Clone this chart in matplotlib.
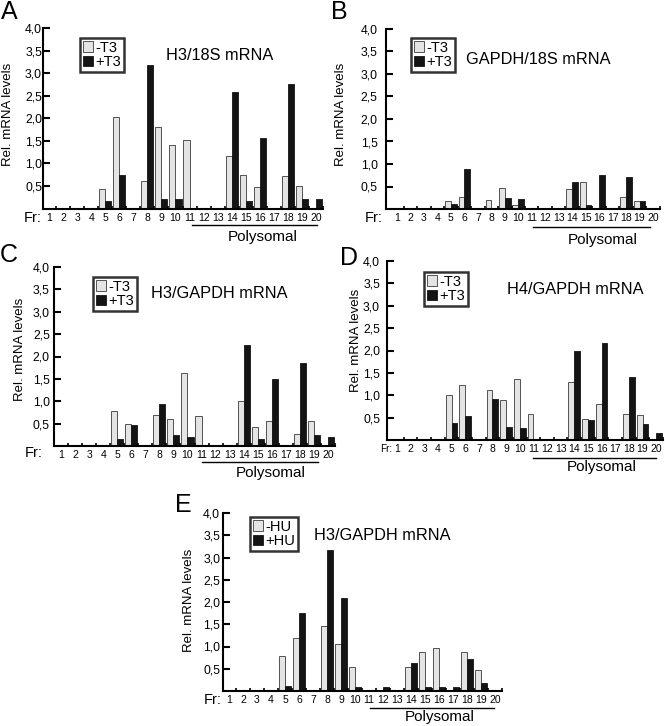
"""Relative mRNA levels across sucrose-gradient fractions (panels A-E)."""

import matplotlib

matplotlib.use("Agg")
from matplotlib import pyplot as plt
from matplotlib.lines import Line2D
from matplotlib.transforms import blended_transform_factory

FIG_W, FIG_H = 665, 726

fractions = list(range(1, 21))
y_ticks = [0.5, 1.0, 1.5, 2.0, 2.5, 3.0, 3.5, 4.0]
y_tick_labels = ["0,5", "1,0", "1,5", "2,0", "2,5", "3,0", "3,5", "4,0"]

# A: H3/18S mRNA
a_minus_t3 = [0, 0, 0, 0, 0.43, 2.02, 0, 0.61, 1.80, 1.41, 1.52, 0, 0, 1.17, 0.74, 0.47, 0, 0.72, 0.49, 0]
a_plus_t3 = [0, 0, 0, 0, 0.17, 0.74, 0, 3.17, 0.21, 0.21, 0, 0, 0, 2.58, 0.17, 1.56, 0, 2.76, 0.21, 0.21]
# B: GAPDH/18S mRNA
b_minus_t3 = [0, 0, 0, 0, 0.18, 0.26, 0, 0.21, 0.46, 0.09, 0, 0, 0, 0.44, 0.60, 0, 0, 0.27, 0.18, 0]
b_plus_t3 = [0, 0, 0, 0, 0.11, 0.88, 0, 0, 0.25, 0.22, 0, 0, 0, 0.60, 0.09, 0.76, 0, 0.72, 0.18, 0]
# C: H3/GAPDH mRNA
c_minus_t3 = [0, 0, 0, 0, 0.79, 0.49, 0, 0.70, 0.61, 1.64, 0.66, 0, 0, 1.00, 0.42, 0.56, 0, 0.27, 0.55, 0]
c_plus_t3 = [0, 0, 0, 0, 0.16, 0.46, 0, 0.93, 0.24, 0.21, 0, 0, 0, 2.25, 0.16, 1.50, 0, 1.85, 0.24, 0.21]
# D: H4/GAPDH mRNA
d_minus_t3 = [0, 0, 0, 0, 1.01, 1.22, 0, 1.12, 0.90, 1.37, 0.59, 0, 0, 1.29, 0.46, 0.81, 0, 0.59, 0.55, 0]
d_plus_t3 = [0, 0, 0, 0, 0.37, 0.53, 0, 0.92, 0.30, 0.27, 0, 0, 0, 1.99, 0.44, 2.16, 0, 1.40, 0.35, 0.15]
# E: H3/GAPDH mRNA, hydroxyurea
e_minus_hu = [0, 0, 0, 0, 0.79, 1.20, 0, 1.45, 1.06, 0.55, 0, 0, 0, 0.55, 0.87, 0.97, 0, 0.87, 0.47, 0]
e_plus_hu = [0, 0, 0, 0, 0.11, 1.76, 0, 3.16, 2.09, 0.10, 0, 0.08, 0, 0.62, 0.08, 0.08, 0.08, 0.73, 0.18, 0]

# layout in reference pixels: box = (left, top, right, bottom) of the axes
PANELS = [
    dict(letter="A", minus=a_minus_t3, plus=a_plus_t3, names=("-T3", "+T3"), title="H3/18S mRNA",
         box=(43, 28, 323, 208.6), xlim=(0.57, 20.43), ypad=0.7,
         letter_xy=(9, 12), title_xy=(220, 55), ylabel_xy=(8, 114), legend_xy=(80, 38),
         fr_xy=(42, 218), fr_size=10.5, poly=(11.2, 20.05), poly_y=16, poly_text=(16.2, 28)),
    dict(letter="B", minus=b_minus_t3, plus=b_plus_t3, names=("-T3", "+T3"), title="GAPDH/18S mRNA",
         box=(386, 29, 660, 209), xlim=(0.18, 20.52), ypad=6.0,
         letter_xy=(339, 12), title_xy=(538, 60), ylabel_xy=(341, 114), legend_xy=(411, 38),
         fr_xy=(383, 218), fr_size=10.5, poly=(11.1, 19.8), poly_y=18, poly_text=(16.3, 31)),
    dict(letter="C", minus=c_minus_t3, plus=c_plus_t3, names=("-T3", "+T3"), title="H3/GAPDH mRNA",
         box=(54, 267, 335, 446), xlim=(0.5, 20.5), ypad=3.0,
         letter_xy=(9, 255), title_xy=(219, 293), ylabel_xy=(20, 349), legend_xy=(93, 277),
         fr_xy=(43, 453), fr_size=10.5, poly=(11.03, 19.3), poly_y=16, poly_text=(15.9, 27)),
    dict(letter="D", minus=d_minus_t3, plus=d_plus_t3, names=("-T3", "+T3"), title="H4/GAPDH mRNA",
         box=(387, 261, 663, 440), xlim=(0.27, 20.44), ypad=5.0,
         letter_xy=(349, 258), title_xy=(575, 290), ylabel_xy=(356, 340), legend_xy=(424, 272),
         fr_xy=(392, 449), fr_size=7.2, poly=(11.0, 20.0), poly_y=18, poly_text=(16.0, 27)),
    dict(letter="E", minus=e_minus_hu, plus=e_plus_hu, names=("-HU", "+HU"), title="H3/GAPDH mRNA",
         box=(223, 513, 502, 691), xlim=(0.57, 20.5), ypad=2.0,
         letter_xy=(183, 505), title_xy=(382, 535), ylabel_xy=(189, 600), legend_xy=(250, 517),
         fr_xy=(222, 700), fr_size=10.5, poly=(11.05, 19.9), poly_y=17, poly_text=(16.07, 26)),
]


def fig_xy(x, y):
    return x / FIG_W, 1 - y / FIG_H


def draw_panel(fig, p):
    left, top, right, bottom = p["box"]
    width_px, height_px = right - left, bottom - top
    ax = fig.add_axes([left / FIG_W, 1 - bottom / FIG_H, width_px / FIG_W, height_px / FIG_H])

    bar_w = 0.43
    pos = [f - bar_w / 2 for f in fractions]
    light = ax.bar(pos, p["minus"], width=bar_w, color="#e4e4e4", edgecolor="#3a3a3a", linewidth=0.6)
    pos = [f + bar_w / 2 for f in fractions]
    dark = ax.bar(pos, p["plus"], width=bar_w, color="#141414", edgecolor="#141414", linewidth=0.6)

    ax.set_xlim(*p["xlim"])
    ax.set_ylim(0, 4.0)
    for side in ("top", "right"):
        ax.spines[side].set_visible(False)
    for side in ("left", "bottom"):
        ax.spines[side].set_linewidth(1.5)

    ax.set_yticks(y_ticks)
    ax.set_yticklabels(y_tick_labels)
    ax.tick_params(axis="y", direction="in", length=5, width=1.5, pad=p["ypad"], labelsize=8.8)
    ax.set_xticks(fractions)
    ax.set_xticklabels([str(f) for f in fractions])
    ax.set_xticks([f + 0.5 for f in fractions], minor=True)
    ax.tick_params(axis="x", which="major", length=0, pad=3, labelsize=7.5)
    ax.tick_params(axis="x", which="minor", direction="in", length=2.2, width=1.2)

    leg = ax.legend([light, dark], p["names"], loc="upper left",
                    bbox_to_anchor=fig_xy(*p["legend_xy"]), bbox_transform=fig.transFigure,
                    fontsize=10.5, frameon=True, fancybox=False, borderpad=0.18, borderaxespad=0,
                    labelspacing=0.05, handlelength=0.72, handleheight=0.72, handletextpad=0.15)
    leg.get_frame().set_edgecolor("black")
    leg.get_frame().set_linewidth(1.8)

    # polysomal bracket under the fraction numbers
    trans = blended_transform_factory(ax.transData, ax.transAxes)
    y_line = -p["poly_y"] / height_px
    ax.add_line(Line2D(list(p["poly"]), [y_line, y_line], transform=trans, color="black",
                       linewidth=1.0, clip_on=False))
    tx, ty = p["poly_text"]
    ax.text(tx, -ty / height_px, "Polysomal", transform=trans, ha="center", va="center", fontsize=11)

    fig.text(*fig_xy(*p["fr_xy"]), "Fr:", ha="right", va="center", fontsize=p["fr_size"])
    fig.text(*fig_xy(*p["title_xy"]), p["title"], ha="center", va="center", fontsize=11.8)
    fig.text(*fig_xy(*p["ylabel_xy"]), "Rel. mRNA levels", rotation=90, ha="center", va="center",
             fontsize=9.5)
    fig.text(*fig_xy(*p["letter_xy"]), p["letter"], ha="center", va="center", fontsize=18)


def main() -> None:
    plt.rcParams["font.family"] = ["Liberation Sans", "DejaVu Sans"]
    fig = plt.figure(figsize=(FIG_W / 100, FIG_H / 100), dpi=100)
    for panel in PANELS:
        draw_panel(fig, panel)
    fig.savefig("out.png", dpi=100)
    plt.close(fig)


if __name__ == "__main__":
    main()
